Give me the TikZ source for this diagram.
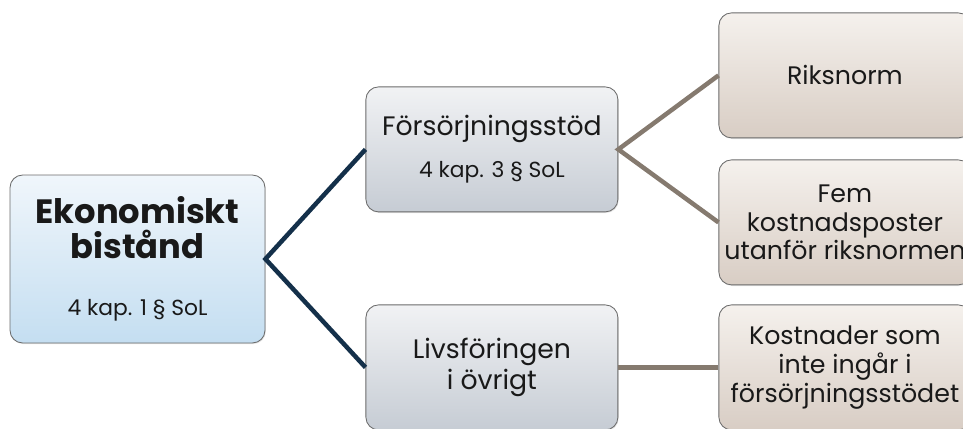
\documentclass[tikz,border=0pt]{standalone}
\usepackage{fontspec}
\setmainfont{Poppins}
\usetikzlibrary{positioning, shadows}
\definecolor{navyline}{HTML}{14304A}
\definecolor{brownline}{HTML}{857A6F}
\definecolor{boxedge}{HTML}{6B6B6B}
\definecolor{roottop}{HTML}{F0F6FB}
\definecolor{rootbot}{HTML}{C4DEF1}
\definecolor{midtop}{HTML}{F1F2F4}
\definecolor{midbot}{HTML}{C6CCD4}
\definecolor{leaftop}{HTML}{F5F1ED}
\definecolor{leafbot}{HTML}{D8CDC4}
\tikzset{
  box/.style={draw=boxedge, line width=0.6pt, rounded corners=9pt,
    minimum width=6.3cm, minimum height=3.125cm, align=center, text=black!90,
    drop shadow={opacity=0.2, shadow xshift=0.6pt, shadow yshift=-0.8pt}}, % common look of all boxes
  rootbox/.style={box, top color=roottop, bottom color=rootbot,
    minimum width=6.375cm, minimum height=4.2cm, font=\bfseries\fontsize{24}{24.5}\selectfont},
  midbox/.style={box, top color=midtop, bottom color=midbot, font=\fontsize{19}{21.5}\selectfont},
  leafbox/.style={box, top color=leaftop, bottom color=leafbot, font=\fontsize{18}{20.5}\selectfont},
  navy/.style={draw=navyline, line width=3.2pt}, % first level edges
  brownish/.style={draw=brownline, line width=3.2pt}, % second level edges
}
\newcommand{\lawref}[1]{{\mdseries\fontsize{15.5}{18}\selectfont #1}}

\begin{document}
\begin{tikzpicture}[on grid]
  \useasboundingbox (0,0) rectangle (24.075,10.7);
  \clip (0,0) rectangle (24.075,10.7);

  \node[rootbox] (root) at (3.4375,4.225)
    {Ekonomiskt\\bistånd\\[16pt]\lawref{4 kap. 1 § SoL}};
  \node[midbox, above right=2.74cm and 8.86cm of root] (fs)
    {Försörjningsstöd\\[8pt]\lawref{4 kap. 3 § SoL}};
  \node[midbox, below=5.45cm of fs] (liv) {Livsföringen\\i övrigt};

  \node[leafbox, above right=1.85cm and 8.825cm of fs] (riks) {Riksnorm};
  \node[leafbox, below=3.675cm of riks] (fem)
    {Fem\\kostnadsposter\\utanför riksnormen};
  \node[leafbox, right=8.825cm of liv] (kost)
    {Kostnader som\\inte ingår i\\försörjningsstödet};

  \draw[navy] (fs.west) -- (root.east) -- (liv.west);
  \draw[brownish] (riks.west) -- (fs.east) -- (fem.west);
  \draw[brownish] (liv.east) -- (kost.west);

\end{tikzpicture}
\end{document}
